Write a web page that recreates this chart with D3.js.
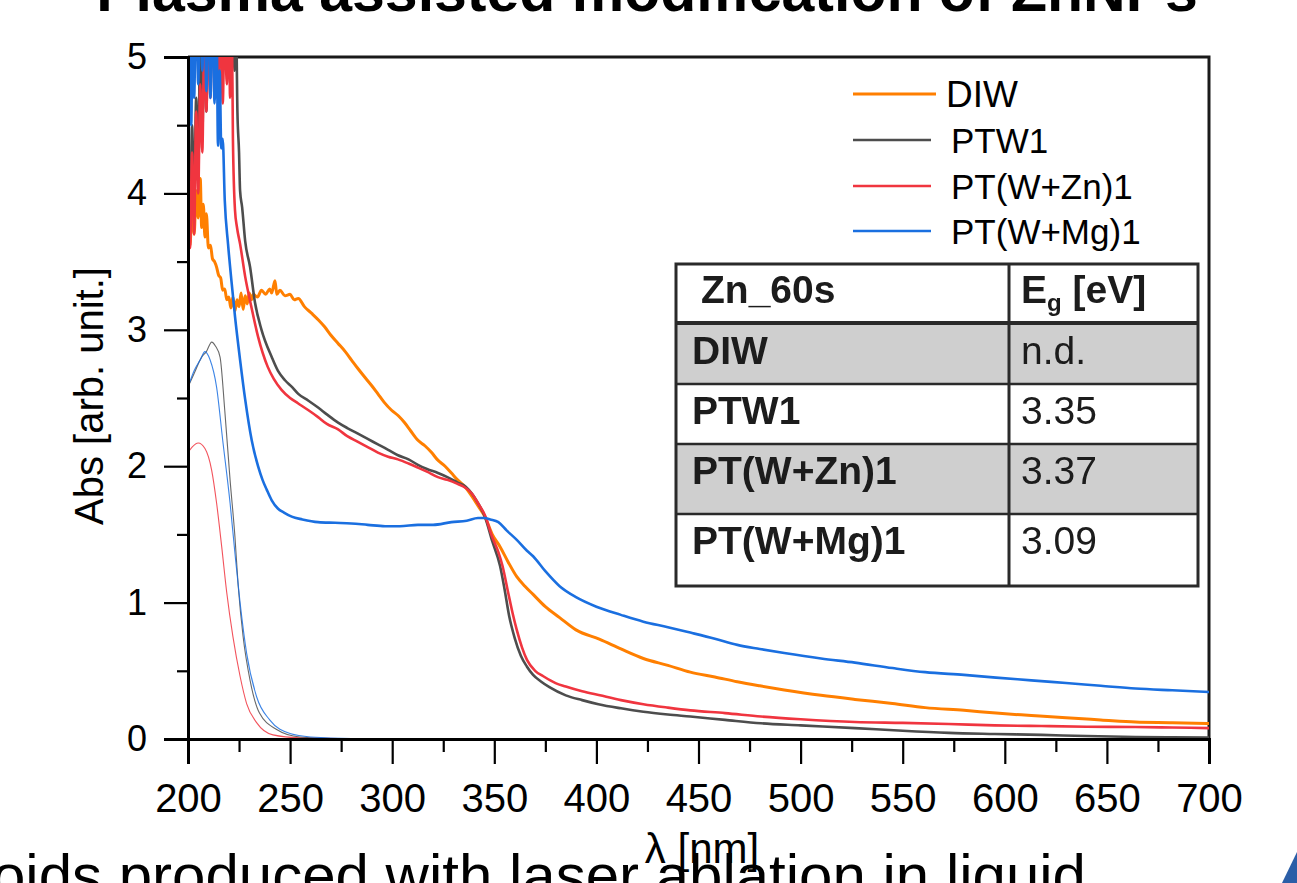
<!DOCTYPE html>
<html>
<head>
<meta charset="utf-8">
<script src="https://cdn.jsdelivr.net/npm/d3@7"></script>
<style>
  html, body { margin: 0; padding: 0; background: #fff; overflow: hidden; }
  svg { display: block; font-family: Arial, "Liberation Sans", sans-serif; }
</style>
</head>
<body>
<svg id="chart" width="1297" height="883"></svg>
<script>
// ---- UV-Vis absorbance spectra, [wavelength nm, absorbance] ----
const diw = [[200,3.55],[200.5,3.9],[201,3.62],[202,3.95],[203,3.7],[204,4.02],[205,3.82],[206,4.11],[206.7,3.75],[207.5,3.92],[208.3,3.68],[209,3.85],[210,3.6],[211,3.62],[212,3.52],[213,3.5],[214,3.46],[215,3.4],[216,3.38],[217,3.29],[218,3.3],[219,3.22],[220,3.24],[221,3.16],[222,3.24],[223,3.14],[224,3.22],[225,3.17],[226,3.27],[227,3.15],[228,3.25],[229,3.19],[230,3.27],[231,3.22],[232,3.26],[234,3.24],[236,3.29],[238,3.26],[240,3.3],[241,3.27],[242.6,3.36],[243.5,3.26],[245,3.29],[247.5,3.25],[250,3.26],[252,3.22],[254,3.23],[257,3.17],[260.6,3.12],[264,3.07],[267,3.02],[270,2.96],[273.5,2.9],[277,2.84],[280,2.78],[283,2.72],[286.7,2.65],[290,2.59],[293,2.53],[296,2.47],[299.7,2.41],[303,2.37],[306,2.32],[309,2.26],[312.6,2.19],[316,2.15],[319.3,2.1],[322,2.05],[325.9,2.0],[329,1.95],[332,1.9],[335,1.86],[339,1.78],[342,1.71],[345.4,1.63],[349,1.5],[352.8,1.41],[356.7,1.3],[361,1.19],[365,1.12],[369,1.06],[375,0.97],[382,0.89],[390,0.8],[401.7,0.73],[412,0.66],[423,0.59],[435,0.54],[446,0.49],[458,0.455],[469,0.42],[480,0.39],[492,0.36],[510,0.32],[526.6,0.29],[545,0.26],[561,0.23],[580,0.21],[595.7,0.19],[613,0.172],[630,0.155],[647,0.14],[664,0.125],[682,0.12],[700,0.113]];

const ptw1 = [[200,3.65],[200.5,4.2],[201,3.75],[202,4.5],[203,3.9],[204,4.7],[205,4.1],[206,5.3],[207,4.4],[208,5.4],[209,4.6],[210,5.5],[211,4.8],[212,5.6],[213,4.9],[214,5.5],[215,4.8],[216,5.6],[217,5.0],[218,5.5],[219,5.1],[220,5.6],[221,5.2],[222,5.5],[222.8,4.9],[223.5,5.3],[224.2,4.6],[225,4.3],[225.5,4.02],[226.5,3.9],[228,3.65],[230.4,3.46],[232.8,3.2],[236,3.0],[241,2.8],[244,2.7],[247.5,2.63],[251,2.58],[254,2.53],[259,2.48],[263.7,2.43],[268,2.38],[273.5,2.32],[278,2.28],[283,2.24],[288,2.2],[293,2.16],[298,2.12],[302.8,2.08],[308,2.05],[312.6,2.01],[317,1.98],[322.4,1.95],[327,1.92],[332,1.88],[336,1.85],[339,1.8],[342,1.73],[345.4,1.63],[349,1.45],[352.8,1.27],[355,1.1],[357.3,0.9],[360,0.74],[363,0.61],[366,0.53],[369,0.47],[373,0.42],[377,0.38],[385,0.32],[393,0.285],[401,0.255],[412,0.225],[423,0.2],[435,0.18],[446,0.165],[463,0.14],[480.6,0.115],[500,0.1],[526.6,0.08],[550,0.06],[572.6,0.045],[595,0.037],[618,0.03],[640,0.022],[664,0.015],[682,0.012],[700,0.01]];

const ptwZn1 = [[200,3.53],[200.5,3.9],[201,3.6],[202,4.3],[203,3.7],[204,4.6],[205,4.0],[206,4.8],[207,4.3],[208,5.2],[209,4.6],[210,5.3],[211,4.7],[212,5.5],[213,4.9],[214,5.4],[215,4.7],[216,5.5],[217,4.66],[218,5.3],[219,4.8],[220,5.4],[220.6,4.7],[221.5,5.2],[222,4.4],[223,3.88],[224,3.75],[225.5,3.63],[228,3.39],[231,3.17],[234.3,2.95],[239,2.73],[242,2.64],[245.8,2.56],[250,2.5],[254,2.46],[259,2.41],[263.7,2.36],[268,2.31],[273.5,2.27],[278,2.22],[283,2.18],[288,2.14],[293,2.1],[298,2.07],[302.8,2.05],[308,2.02],[312.6,1.99],[317,1.96],[322.4,1.92],[327,1.9],[332,1.87],[336,1.84],[339,1.8],[342,1.73],[345.4,1.64],[349,1.48],[352,1.37],[354,1.27],[356.7,1.08],[359,0.92],[361,0.8],[363.6,0.67],[366,0.58],[370,0.5],[374,0.46],[380,0.41],[385,0.385],[393,0.35],[401.7,0.32],[412,0.285],[423,0.255],[435,0.23],[446,0.21],[463,0.19],[480.6,0.165],[500,0.145],[526.6,0.125],[550,0.118],[572.6,0.11],[595,0.1],[618,0.095],[640,0.09],[664,0.088],[682,0.084],[700,0.08]];

const ptwMg1 = [[200,3.9],[200.5,4.6],[201,5.3],[201.6,4.5],[202.3,5.4],[203,4.7],[204,5.5],[205,4.8],[206,5.6],[207,4.9],[208,5.5],[209,4.75],[210,5.6],[211,4.7],[212,5.5],[213,4.66],[214,5.2],[214.7,4.35],[215.5,4.9],[216.3,4.33],[217,4.4],[218,3.95],[219.6,3.63],[221.4,3.34],[223,3.1],[225.5,2.78],[228,2.49],[231.2,2.19],[234.3,2.0],[236.5,1.9],[238.5,1.83],[241,1.75],[244,1.69],[247,1.66],[250.8,1.63],[256,1.61],[263.7,1.59],[272,1.585],[280,1.58],[288,1.57],[296.5,1.56],[303.8,1.56],[312.6,1.57],[320,1.57],[329,1.59],[336.5,1.6],[342,1.62],[345.4,1.62],[348,1.61],[352,1.59],[356,1.53],[361,1.46],[366,1.38],[369,1.34],[375,1.23],[382,1.12],[390,1.04],[400,0.97],[412,0.91],[423,0.86],[435,0.82],[446,0.78],[458,0.735],[469,0.69],[480,0.66],[492,0.63],[510,0.59],[526.6,0.56],[545,0.52],[561,0.49],[580,0.47],[595.7,0.45],[613,0.43],[630,0.41],[647,0.39],[664,0.37],[682,0.357],[700,0.345]];

// diluted reference spectra (thin traces)
const ptw1Thin = [[200,2.58],[203,2.68],[206.7,2.8],[209,2.84],[211.6,2.91],[213.5,2.88],[215.7,2.8],[218,2.41],[220.6,1.9],[223,1.48],[224.6,1.12],[227,0.75],[230.4,0.43],[235,0.19],[243.4,0.07],[254.8,0.015],[270,0.004],[300,0.002],[700,0.0]];
const ptwMg1Thin = [[200,2.58],[203,2.7],[206,2.78],[208.3,2.84],[210.8,2.78],[214,2.58],[217,2.19],[220.6,1.73],[223,1.36],[225.5,1.0],[228.7,0.63],[233.6,0.31],[240,0.14],[250,0.04],[260,0.015],[280,0.004],[700,0.002]];
const ptwZn1Thin = [[200,2.1],[202,2.14],[205,2.17],[208.3,2.13],[211.6,1.97],[214,1.73],[216.5,1.41],[219,1.07],[222,0.75],[225.5,0.46],[228.7,0.26],[233.6,0.12],[241.6,0.03],[255,0.008],[280,0.002],[700,0.0]];

const seriesNames = ["DIW", "PTW1", "PT(W+Zn)1", "PT(W+Mg)1"];
const seriesColors = ["#ff7f00", "#4d4d4d", "#f0353f", "#1a6fe0"];

const xMajorTicks = [200, 250, 300, 350, 400, 450, 500, 550, 600, 650, 700];
const xMinorTicks = [225, 275, 325, 375, 425, 475, 525, 575, 625, 675];
const yMajorTicks = [0, 1, 2, 3, 4, 5];
const yMinorTicks = [0.5, 1.5, 2.5, 3.5, 4.5];

const tableHeader = ["Zn_60s", "E", "g", " [eV]"];
const tableSamples = ["DIW", "PTW1", "PT(W+Zn)1", "PT(W+Mg)1"];
const tableGaps = ["n.d.", "3.35", "3.37", "3.09"];

const titleText = "Plasma assisted modification of ZnNPs";
const footerText = "Colloids produced with laser ablation in liquid";

// ---- layout ----
const svg = d3.select("#chart");
const L = 188, R = 1209, T = 57, B = 739;
const x = d3.scaleLinear().domain([200, 700]).range([L, R]);
const y = d3.scaleLinear().domain([0, 5]).range([B, T]);
const font = 'Arial, "Liberation Sans", sans-serif';

// slide title (partly above the visible area)
svg.append("text")
  .attr("x", 647).attr("y", 11)
  .attr("text-anchor", "middle")
  .attr("font-size", 59).attr("font-weight", "bold")
  .attr("fill", "#000")
  .text(titleText);

// clip for curves
const defs = svg.append("defs");
defs.append("clipPath").attr("id", "plotClip")
  .append("rect").attr("x", L).attr("y", T).attr("width", R - L).attr("height", B - T);

// frame (top and right)
svg.append("path")
  .attr("d", `M${L},${T}H${R}V${B}`)
  .attr("fill", "none").attr("stroke", "#1a1a1a").attr("stroke-width", 3);

// curves
const line = d3.line().x(d => x(d[0])).y(d => y(d[1])).curve(d3.curveMonotoneX);
const curves = svg.append("g").attr("clip-path", "url(#plotClip)");
const thin = [[ptwZn1Thin, seriesColors[2]], [ptw1Thin, seriesColors[1]], [ptwMg1Thin, seriesColors[3]]];
thin.forEach(([data, c]) => {
  curves.append("path").datum(data).attr("d", line)
    .attr("fill", "none").attr("stroke", c).attr("stroke-width", 1.1).attr("opacity", 0.85);
});
const thick = [[diw, seriesColors[0], 3], [ptw1, seriesColors[1], 2.6], [ptwZn1, seriesColors[2], 2.6], [ptwMg1, seriesColors[3], 2.6]];
thick.forEach(([data, c, w]) => {
  curves.append("path").datum(data).attr("d", line)
    .attr("fill", "none").attr("stroke", c).attr("stroke-width", w)
    .attr("stroke-linejoin", "round");
});

// axes
const xAxis = svg.append("g").attr("transform", `translate(0,${B})`)
  .call(d3.axisBottom(x).tickValues(xMajorTicks).tickSize(25).tickPadding(20).tickFormat(d3.format("d")));
const xMinor = svg.append("g").attr("transform", `translate(0,${B})`)
  .call(d3.axisBottom(x).tickValues(xMinorTicks).tickSize(13).tickFormat(""));
const yAxis = svg.append("g").attr("transform", `translate(${L},0)`)
  .call(d3.axisLeft(y).tickValues(yMajorTicks).tickSize(24).tickPadding(17).tickFormat(d3.format("d")));
const yMinor = svg.append("g").attr("transform", `translate(${L},0)`)
  .call(d3.axisLeft(y).tickValues(yMinorTicks).tickSize(11).tickFormat(""));

[xAxis, xMinor, yAxis, yMinor].forEach(g => {
  g.select(".domain").attr("stroke", "#000").attr("stroke-width", 3);
  g.selectAll(".tick line").attr("stroke", "#000").attr("stroke-width", 2.2);
  g.selectAll(".tick text").attr("fill", "#000").attr("font-family", font);
});
xAxis.selectAll(".tick text").attr("font-size", 40);
yAxis.selectAll(".tick text").attr("font-size", 36);

// axis titles
svg.append("text")
  .attr("transform", `translate(103,396) rotate(-90)`)
  .attr("text-anchor", "middle")
  .attr("font-size", 40).attr("fill", "#000")
  .text("Abs [arb. unit.]");
svg.append("text")
  .attr("x", 702).attr("y", 863)
  .attr("text-anchor", "middle")
  .attr("font-size", 42).attr("fill", "#000")
  .text("λ [nm]");

// legend
const legendRows = [
  { y: 94, x1: 853, x2: 936, tx: 946, fs: 37, w: 3 },
  { y: 140, x1: 853, x2: 931, tx: 951, fs: 35, w: 2.4 },
  { y: 186, x1: 853, x2: 931, tx: 951, fs: 35, w: 2.4 },
  { y: 231, x1: 853, x2: 931, tx: 951, fs: 35, w: 2.4 }
];
const legend = svg.append("g");
seriesNames.forEach((name, i) => {
  const r = legendRows[i];
  legend.append("line").attr("x1", r.x1).attr("x2", r.x2).attr("y1", r.y).attr("y2", r.y)
    .attr("stroke", seriesColors[i]).attr("stroke-width", r.w);
  legend.append("text").attr("x", r.tx).attr("y", r.y).attr("dy", "0.36em")
    .attr("font-size", r.fs).attr("fill", "#000").text(name);
});

// band-gap table
const soften = defs.append("filter").attr("id", "soft");
soften.append("feGaussianBlur").attr("stdDeviation", 0.6);
const tbl = svg.append("g").attr("filter", "url(#soft)");
const tx0 = 676, tx1 = 1198, tcol = 1009;
const rowEdges = [264, 323, 384, 444, 514, 586];
const rowFill = ["#ffffff", "#cfcfcf", "#ffffff", "#cfcfcf", "#ffffff"];
rowFill.forEach((f, i) => {
  tbl.append("rect").attr("x", tx0).attr("y", rowEdges[i]).attr("width", tx1 - tx0)
    .attr("height", rowEdges[i + 1] - rowEdges[i]).attr("fill", f);
});
rowEdges.slice(1, -1).forEach((ry, i) => {
  tbl.append("line").attr("x1", tx0).attr("x2", tx1).attr("y1", ry).attr("y2", ry)
    .attr("stroke", "#2a2a2a").attr("stroke-width", i === 0 ? 4 : 2.5);
});
tbl.append("line").attr("x1", tcol).attr("x2", tcol).attr("y1", rowEdges[0]).attr("y2", rowEdges[5])
  .attr("stroke", "#2a2a2a").attr("stroke-width", 3);
tbl.append("rect").attr("x", tx0).attr("y", rowEdges[0]).attr("width", tx1 - tx0)
  .attr("height", rowEdges[5] - rowEdges[0]).attr("fill", "none")
  .attr("stroke", "#2a2a2a").attr("stroke-width", 3);

tbl.append("text").attr("x", 701).attr("y", 303).attr("font-size", 39).attr("font-weight", "bold")
  .attr("fill", "#1a1a1a").text(tableHeader[0]);
const eg = tbl.append("text").attr("x", 1021).attr("y", 303).attr("font-size", 39)
  .attr("font-weight", "bold").attr("fill", "#1a1a1a");
eg.append("tspan").text(tableHeader[1]);
eg.append("tspan").attr("font-size", 24).attr("dy", 8).text(tableHeader[2]);
eg.append("tspan").attr("dy", -8).text(tableHeader[3]);

const baselines = [364, 424, 484, 554];
tableSamples.forEach((s, i) => {
  tbl.append("text").attr("x", 692).attr("y", baselines[i]).attr("font-size", 39)
    .attr("font-weight", "bold").attr("fill", "#1a1a1a").text(s);
  tbl.append("text").attr("x", 1021).attr("y", baselines[i]).attr("font-size", 39)
    .attr("fill", "#1a1a1a").text(tableGaps[i]);
});

// slide footer (partly below the visible area)
svg.append("text")
  .attr("x", 1086).attr("y", 896)
  .attr("text-anchor", "end")
  .attr("font-size", 60).attr("fill", "#000")
  .text(footerText);

// corner decoration
svg.append("path").attr("d", "M1297,852L1297,883L1282,883Z").attr("fill", "#2b5ea7");
</script>
</body>
</html>
